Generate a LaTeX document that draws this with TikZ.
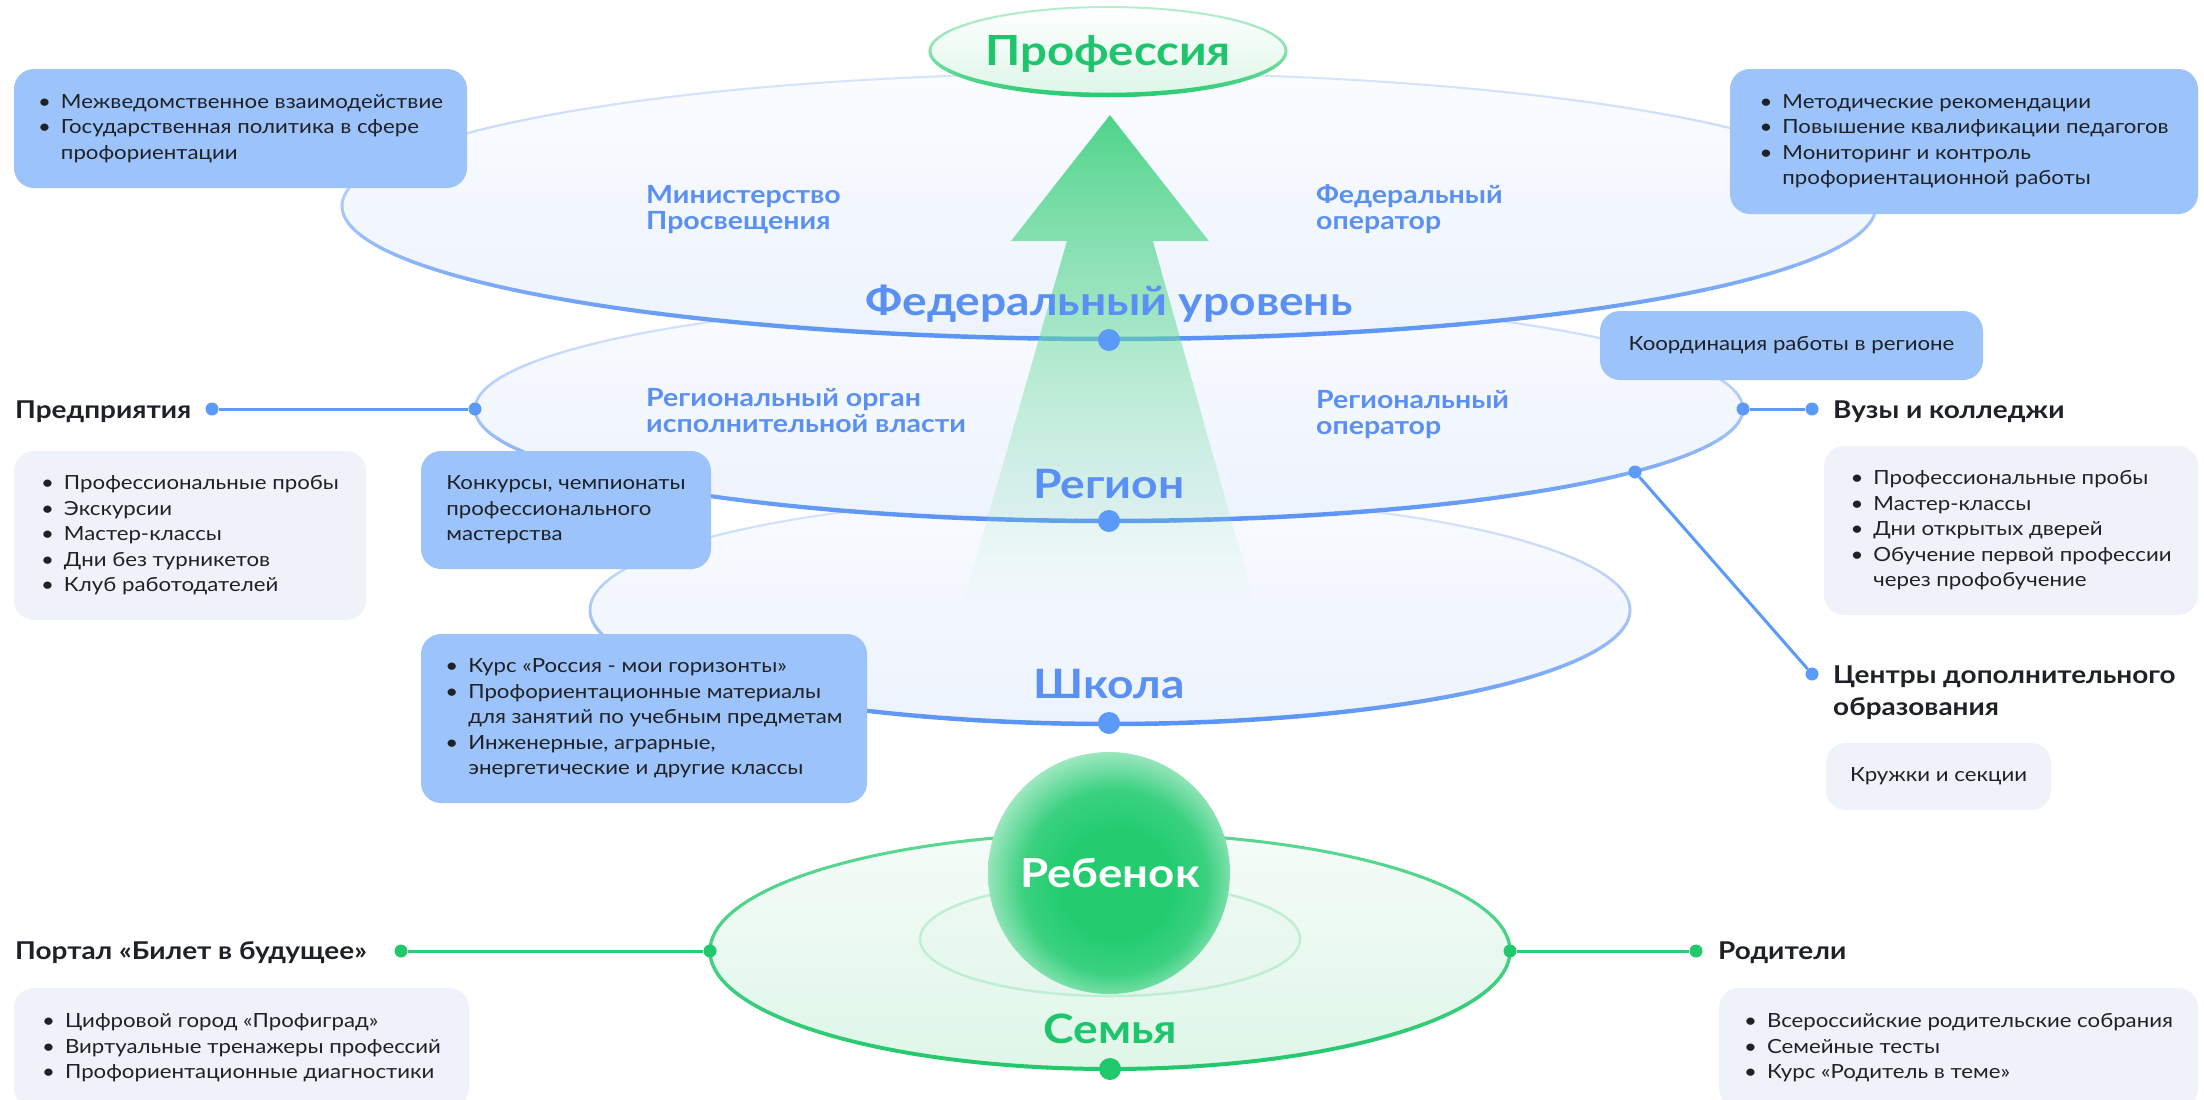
\documentclass[tikz,border=0pt]{standalone}
\usepackage{fontspec}
\setmainfont{Lato}[FakeStretch=1.14]
\usetikzlibrary{fadings}
\definecolor{bline}{HTML}{5C9AF7}
\definecolor{bdotc}{HTML}{5B9AF8}
\definecolor{btext}{HTML}{5A90F3}
\definecolor{bbox}{HTML}{9DC3FB}
\definecolor{gbox}{HTML}{EFF2F8}
\definecolor{gline}{HTML}{2ECC76}
\definecolor{gtext}{HTML}{1EC56C}
\definecolor{txt}{HTML}{1E2126}
\definecolor{elltop}{HTML}{D6E4FD}
\definecolor{ellbot}{HTML}{5893F5}
\definecolor{protop}{HTML}{B5EDCD}
\definecolor{probot}{HTML}{2BCB73}
\definecolor{famtop}{HTML}{5AD692}
\definecolor{fambot}{HTML}{22C86C}
\definecolor{arrowc}{HTML}{4ED48A}
\definecolor{ballA}{HTML}{22CC6F}
\definecolor{ballB}{HTML}{3AD180}
\definecolor{ballC}{HTML}{7CDFAA}
\definecolor{ballD}{HTML}{B0ECCB}
\tikzfading[name=arrowfade, top color=transparent!0, bottom color=transparent!100]
\pgfdeclareradialshading{ballsh}{\pgfpoint{2bp}{-3bp}}{color(0bp)=(ballA); color(11bp)=(ballA); color(19bp)=(ballB); color(24bp)=(ballC); color(28bp)=(ballD); color(50bp)=(ballD)}
% gradient stroke of an ellipse: cx cy rx ry ctop cbot wtop wbot
\newcommand\gstroke[8]{%
  \foreach \a in {0,3,...,357}{%
    \pgfmathsetmacro\gmixA{(1+sin(\a+1.5))/2}%
    \pgfmathsetmacro\gmix{100*\gmixA*sqrt(\gmixA)}%
    \pgfmathsetmacro\gwid{#7+(#8-#7)*\gmix/100}%
    \draw[line width=\gwid pt, draw=#6!\gmix!#5, line cap=round]
      (#1,#2) ++(\a:#3 and #4) arc[start angle=\a, end angle=\a+3, x radius=#3, y radius=#4];
  }}
\newcommand\boxfont{\fontsize{19.5}{25.5}\selectfont}
\begin{document}
\begin{tikzpicture}[x=1pt,y=-1pt,
  bdot/.style={circle,fill=bdotc,inner sep=0pt,minimum size=22pt},
  sdot/.style={circle,fill=bdotc,inner sep=0pt,minimum size=13pt},
  gdot/.style={circle,fill=fambot,inner sep=0pt,minimum size=22pt},
  gsdot/.style={circle,fill=fambot,inner sep=0pt,minimum size=13pt},
  bconn/.style={draw=bline,line width=3pt},
  gconn/.style={draw=gline,line width=3pt},
  bluebox/.style={fill=bbox,rounded corners=20pt,inner sep=0pt,align=left,font=\boxfont,text=txt},
  greybox/.style={fill=gbox,rounded corners=20pt,inner sep=0pt,align=left,font=\boxfont,text=txt},
  lvl/.style={font=\fontsize{40.5}{48}\selectfont\bfseries,text=btext,anchor=base,inner sep=0pt},
  lab/.style={font=\fontsize{24.5}{32}\selectfont\bfseries,text=txt,anchor=base west,inner sep=0pt},
  sub/.style={font=\fontsize{25}{26.5}\selectfont\bfseries,text=btext,anchor=base west,inner sep=0pt},
]
\useasboundingbox (0,0) rectangle (2204,1100);
\clip (0,0) rectangle (2204,1100);
\fill[white] (0,0) rectangle (2204,1100);

% School ellipse
\shade[top color={rgb,255:red,249;green,251;blue,255}, bottom color={rgb,255:red,237;green,243;blue,253}]
  (1110,610) ellipse [x radius=520, y radius=114];
\gstroke{1110}{610}{520}{114}{elltop}{ellbot}{2}{4.5}
% Region ellipse
\shade[top color={rgb,255:red,249;green,251;blue,255}, bottom color={rgb,255:red,237;green,243;blue,253}]
  (1109,409) ellipse [x radius=634, y radius=112];
\gstroke{1109}{409}{634}{112}{elltop}{ellbot}{2}{4.5}
% Federal ellipse
\shade[top color={rgb,255:red,250;green,252;blue,255}, bottom color={rgb,255:red,237;green,243;blue,253}]
  (1109,206) ellipse [x radius=767, y radius=133];
\gstroke{1109}{206}{767}{133}{elltop}{ellbot}{2}{4.5}
% Profession ellipse
\shade[top color=white, bottom color={rgb,255:red,221;green,246;blue,232}]
  (1108,51) ellipse [x radius=178, y radius=44];
\gstroke{1108}{51}{178}{44}{protop}{probot}{2}{4.5}
% Family ellipse
\shade[top color={rgb,255:red,245;green,252;blue,248}, bottom color={rgb,255:red,222;green,246;blue,232}]
  (1110,951) ellipse [x radius=400, y radius=118];
\gstroke{1110}{951}{400}{118}{famtop}{fambot}{3}{4}
\shade[top color={rgb,255:red,237;green,249;blue,242}, bottom color={rgb,255:red,228;green,247;blue,237}, draw={rgb,255:red,192;green,238;blue,211}, line width=2.5pt]
  (1110,939) ellipse [x radius=190, y radius=57];

% Arrow
\shade[top color=arrowc, bottom color=arrowc!60!white, path fading=arrowfade]
  (1110,115) -- (1209,241) -- (1153,241) -- (1255,604) -- (963,604) -- (1067,241) -- (1011,241) -- cycle;

% Dots on ellipses
\node[bdot] (fedD) at (1109,340) {};
\node[bdot] (regD) at (1109,521) {};
\node[bdot] (schD) at (1109,723) {};
\node[gdot] (famD) at (1110,1069) {};
\node[sdot] (regL) at (475,409) {};
\node[sdot] (regR) at (1743,409) {};
\node[sdot] (regB) at (1635,472) {};
\node[sdot] (predD) at (212,409) {};
\node[sdot] (vuzD) at (1812,409) {};
\node[sdot] (centrD) at (1812,674) {};
\node[gsdot] (famL) at (710,951) {};
\node[gsdot] (famR) at (1510,951) {};
\node[gsdot] (portD) at (401,951) {};
\node[gsdot] (parD) at (1696,951) {};
\draw[bconn] (predD) -- (regL);
\draw[bconn] (regR) -- (vuzD);
\draw[bconn] (regB) -- (centrD);
\draw[gconn] (portD) -- (famL);
\draw[gconn] (famR) -- (parD);

% Child ball
\node[circle, minimum size=242pt, inner sep=0pt, shading=ballsh] (child) at (1109,873) {};
\node[font=\fontsize{40}{48}\selectfont\bfseries, text=white, anchor=base, inner sep=0pt] (childT) at (1110,887) {Ребенок};

% Level labels
\node[font=\fontsize{41.5}{48}\selectfont\bfseries, text=gtext, anchor=base, inner sep=0pt] (prof) at (1108,65) {Профессия};
\node[lvl] (fedT) at (1109,315) {Федеральный уровень};
\node[lvl] (regT) at (1109,498) {Регион};
\node[lvl] (schT) at (1109,698) {Школа};
\node[lvl, text=gtext] (famT) at (1110,1043) {Семья};

% Sub labels
\node[sub] (minT) at (646,203) {\begin{tabular}[t]{@{}l@{}}Министерство\\Просвещения\end{tabular}};
\node[sub] (fopT) at (1316,203) {\begin{tabular}[t]{@{}l@{}}Федеральный\\оператор\end{tabular}};
\node[sub] (rorgT) at (646,406) {\begin{tabular}[t]{@{}l@{}}Региональный орган\\исполнительной власти\end{tabular}};
\node[sub] (ropT) at (1316,408) {\begin{tabular}[t]{@{}l@{}}Региональный\\оператор\end{tabular}};

% Black labels
\node[lab] (predT) at (15,418) {Предприятия};
\node[lab] (vuzT) at (1833,418) {Вузы и колледжи};
\node[lab] (centrT) at (1833,683) {\begin{tabular}[t]{@{}l@{}}Центры дополнительного\\образования\end{tabular}};
\node[lab] (portT) at (15,959) {Портал «Билет в будущее»};
\node[lab] (parT) at (1718,959) {Родители};

% Blue boxes
\node[bluebox, minimum width=453pt, minimum height=119pt] (fedLbox) at (240.5,128.5)
  {\begin{tabular}{@{}l@{\hspace{10pt}}l@{}}•&Межведомственное взаимодействие\\•&Государственная политика в сфере\\&профориентации\end{tabular}};
\node[bluebox, minimum width=468pt, minimum height=145pt] (fedRbox) at (1964,141.5)
  {\begin{tabular}{@{}l@{\hspace{10pt}}l@{}}•&Методические рекомендации\\•&Повышение квалификации педагогов\\•&Мониторинг и контроль\\&профориентационной работы\end{tabular}};
\node[bluebox, minimum width=383pt, minimum height=69pt] (koordBox) at (1791.5,345.5)
  {Координация работы в регионе};
\node[bluebox, minimum width=290pt, minimum height=118pt] (konkBox) at (566,510)
  {\begin{tabular}{@{}l@{}}Конкурсы, чемпионаты\\профессионального\\мастерства\end{tabular}};
\node[bluebox, minimum width=446pt, minimum height=169pt] (schBox) at (644,718.5)
  {\begin{tabular}{@{}l@{\hspace{10pt}}l@{}}•&Курс «Россия - мои горизонты»\\•&Профориентационные материалы\\&для занятий по учебным предметам\\•&Инженерные, аграрные,\\&энергетические и другие классы\end{tabular}};

% Grey boxes
\node[greybox, minimum width=352pt, minimum height=169pt] (predBox) at (190,535.5)
  {\begin{tabular}{@{}l@{\hspace{10pt}}l@{}}•&Профессиональные пробы\\•&Экскурсии\\•&Мастер-классы\\•&Дни без турникетов\\•&Клуб работодателей\end{tabular}};
\node[greybox, minimum width=374pt, minimum height=169pt] (vuzBox) at (2011,530.5)
  {\begin{tabular}{@{}l@{\hspace{10pt}}l@{}}•&Профессиональные пробы\\•&Мастер-классы\\•&Дни открытых дверей\\•&Обучение первой профессии\\&через профобучение\end{tabular}};
\node[greybox, minimum width=225pt, minimum height=67pt] (kruzBox) at (1938.5,776.5)
  {Кружки и секции};
\node[greybox, minimum width=455pt, minimum height=120pt] (portBox) at (241.5,1048)
  {\begin{tabular}{@{}l@{\hspace{10pt}}l@{}}•&Цифровой город «Профиград»\\•&Виртуальные тренажеры профессий\\•&Профориентационные диагностики\end{tabular}};
\node[greybox, minimum width=479pt, minimum height=120pt] (parBox) at (1958.5,1048)
  {\begin{tabular}{@{}l@{\hspace{10pt}}l@{}}•&Всероссийские родительские собрания\\•&Семейные тесты\\•&Курс «Родитель в теме»\end{tabular}};
\end{tikzpicture}
\end{document}
